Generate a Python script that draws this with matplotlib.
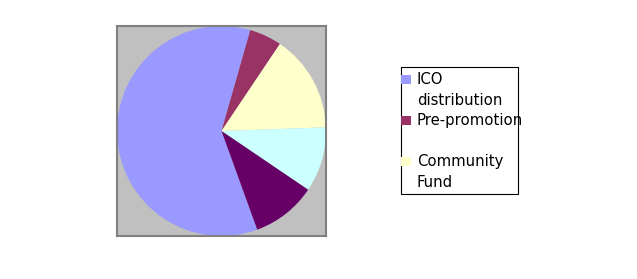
import matplotlib
matplotlib.use("Agg")
import matplotlib.pyplot as plt
from matplotlib.patches import Rectangle

# data
categories = ["ICO distribution", "Pre-promotion", "Community Fund", "Team", "Advisors"]
shares = [60, 5, 15, 10, 10]
colors = ["#9999FF", "#993366", "#FFFFCC", "#CCFFFF", "#660066"]

# legend rows as they show in the (truncated) legend box
legend_rows = ["ICO\ndistribution", "Pre-promotion\n", "Community\nFund"]

W, H = 637, 279
fig = plt.figure(figsize=(W / 100, H / 100), dpi=100)


def fx(x):
    return x / W


def fy(y):
    return 1 - y / H


# pie plot area
ax = fig.add_axes([fx(117), fy(236), (326 - 117) / W, (236 - 26) / H])
ax.pie(shares, colors=colors, startangle=-70, counterclock=False,
       radius=1.0, wedgeprops=dict(linewidth=0))
ax.set_frame_on(True)
ax.set_facecolor("#C0C0C0")
ax.set_xlim(-1.0, 1.0)
ax.set_ylim(-1.0, 1.0)
ax.set_aspect("auto")
ax.set_xticks([])
ax.set_yticks([])
for s in ax.spines.values():
    s.set_visible(True)
    s.set_color("#808080")
    s.set_linewidth(1.5)

# legend box drawn by hand
fig.add_artist(Rectangle((fx(401), fy(194)), (518 - 401) / W, (194 - 67) / H,
                         transform=fig.transFigure, facecolor="white",
                         edgecolor="black", linewidth=0.8))
line_h = 20.6
base = 84
row = 0
for i, text in enumerate(legend_rows):
    y0 = base + row * line_h
    fig.add_artist(Rectangle((fx(401), fy(y0)), 10 / W, 9 / H,
                             transform=fig.transFigure, facecolor=colors[i],
                             edgecolor="none"))
    for j, line in enumerate(text.split("\n")):
        if line:
            fig.text(fx(417), fy(y0 + j * line_h), line, fontsize=10.7,
                     va="baseline", ha="left", color="black")
    row += len(text.split("\n"))

fig.savefig("out.png", dpi=100)
